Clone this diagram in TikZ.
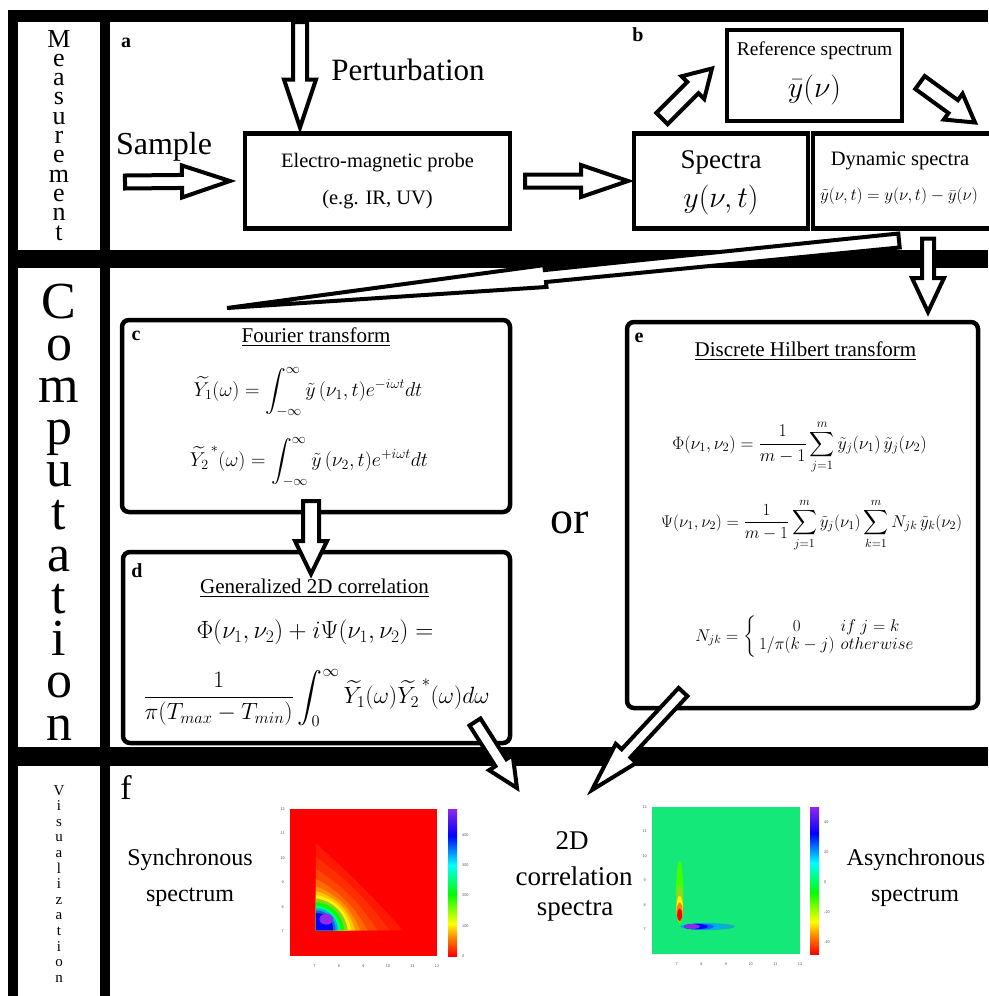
\documentclass[tikz,border=0pt]{standalone}
\usepackage{fix-cm}
\usepackage{amsmath}
\usepackage{fontspec}
\setmainfont{Liberation Serif}
\usetikzlibrary{calc}

\definecolor{cbpurple}{RGB}{145,40,235}
\definecolor{asyncbg}{RGB}{20,232,120}
\pgfdeclareverticalshading{rainbowbar}{100bp}{color(0bp)=(red); color(25bp)=(red); color(31bp)=(orange); color(36bp)=(yellow); color(46bp)=(green); color(56bp)=(cyan); color(66bp)=(blue); color(75bp)=(cbpurple); color(100bp)=(cbpurple)}

% hollow block arrow: from, to, tail half width, neck half width, head half width, head length
\newcommand{\fatarrow}[6]{%
  \coordinate (fa-n) at ($(#2)!#6!(#1)$);
  \draw[fat] ($(#1)!#3!90:(#2)$) -- ($(fa-n)!#4!90:(#2)$) -- ($(fa-n)!#5!90:(#2)$)
    -- (#2) -- ($(fa-n)!#5!-90:(#2)$) -- ($(fa-n)!#4!-90:(#2)$)
    -- ($(#1)!#3!-90:(#2)$) -- cycle;}

\tikzset{
  bar/.style={fill=black},
  box/.style={draw, line width=4.5pt, inner sep=0pt, outer sep=0pt},
  rbox/.style={draw, line width=4.5pt, rounded corners=7pt, inner sep=0pt, outer sep=0pt},
  fat/.style={draw, fill=white, line width=4pt},
  rowlbl/.style={anchor=base, inner sep=0pt},
  panel/.style={font=\fontsize{20}{20}\selectfont\bfseries, inner sep=0pt},
  tick/.style={font=\fontsize{4}{4}\selectfont\sffamily, text=black!70, inner sep=0pt},
}

\begin{document}
\begin{tikzpicture}[x=1pt,y=-1pt,line join=miter]
  \useasboundingbox (0,0) rectangle (988,996);
  % frame
  \fill[bar] (8,10) rectangle (988,22);
  \fill[bar] (8,10) rectangle (18,996);
  \fill[bar] (100,10) rectangle (110,996);
  \fill[bar] (8,250) rectangle (988,268);
  \fill[bar] (8,747) rectangle (988,766);

  % row titles
  \foreach \l [count=\i] in {M,e,a,s,u,r,e,m,e,n,t}
    \node[rowlbl, font=\fontsize{26}{26}\selectfont] (meas\i) at (59,{47+(\i-1)*19.3}) {\l};
  \foreach \l [count=\i] in {C,o,m,p,u,t,a,t,i,o,n}
    \node[rowlbl, font=\fontsize{52}{52}\selectfont] (comp\i) at (59,{318+(\i-1)*42.2}) {\l};
  \foreach \l [count=\i] in {V,i,s,u,a,l,i,z,a,t,i,o,n}
    \node[rowlbl, font=\fontsize{15}{15}\selectfont] (vis\i) at (59,{795+(\i-1)*15.6}) {\l};

  % measurement
  \node[panel] (pa) at (126,43) {a};
  \node[panel] (pb) at (638,35) {b};
  \node[font=\fontsize{31}{31}\selectfont] (pert) at (408,70) {Perturbation};
  \node[font=\fontsize{32}{32}\selectfont] (sample) at (164,147) {Sample};
  \node[box, minimum width=265pt, minimum height=95pt] (probe) at (377.5,181) {};
  \node[font=\fontsize{20.5}{20.5}\selectfont] (probe-l1) at ($(probe)+(0,-18)$) {Electro-magnetic probe};
  \node[font=\fontsize{20.5}{20.5}\selectfont] (probe-l2) at ($(probe)+(0,19)$) {(e.g. IR, UV)};
  \node[box, minimum width=174pt, minimum height=95pt] (spectra) at (721,181) {};
  \node[font=\fontsize{27}{27}\selectfont] (spectra-l1) at ($(spectra)+(0,-19)$) {Spectra};
  \node[font=\fontsize{30}{30}\selectfont] (spectra-l2) at ($(spectra)+(0,19)$) {$y(\nu,t)$};
  \node[box, minimum width=178pt, minimum height=95pt] (dyn) at (902,181) {};
  \node[font=\fontsize{20.5}{20.5}\selectfont] (dyn-l1) at ($(dyn)+(-2,-20)$) {Dynamic spectra};
  \node[font=\fontsize{17}{17}\selectfont] (dyn-l2) at ($(dyn)+(-3,15)$) {$\tilde{y}(\nu,t)=y(\nu,t)-\bar{y}(\nu)$};
  \node[box, minimum width=175pt, minimum height=91pt] (ref) at (814.5,75.5) {};
  \node[font=\fontsize{19.5}{19.5}\selectfont] (ref-l1) at ($(ref)+(0,-25)$) {Reference spectrum};
  \node[font=\fontsize{30}{30}\selectfont] (ref-l2) at ($(ref)+(0,14)$) {$\bar{y}(\nu)$};

  % computation
  \node[rbox, minimum width=388pt, minimum height=192pt] (fourier) at (316,416) {};
  \node[panel] (pc) at ($(fourier.north west)+(14,16)$) {c};
  \node[font=\fontsize{21}{21}\selectfont] (fourier-t) at ($(fourier.north)+(0,17)$) {\underline{Fourier transform}};
  \node[font=\fontsize{20}{20}\selectfont] (fourier-f1) at ($(fourier.north)+(-8,72)$)
    {$\widetilde{Y_1}(\omega)=\displaystyle\int_{-\infty}^{\infty}\tilde{y}\,(\nu_1,t)e^{-i\omega t}dt$};
  \node[font=\fontsize{20}{20}\selectfont] (fourier-f2) at ($(fourier.north)+(-7,142)$)
    {$\widetilde{Y_2}^{\,*}(\omega)=\displaystyle\int_{-\infty}^{\infty}\tilde{y}\,(\nu_2,t)e^{+i\omega t}dt$};

  \node[rbox, minimum width=387pt, minimum height=191pt] (corr) at (316.5,647.5) {};
  \node[panel] (pd) at ($(corr.north west)+(14,19)$) {d};
  \node[font=\fontsize{21}{21}\selectfont] (corr-t) at ($(corr.north)+(-2,36)$) {\underline{Generalized 2D correlation}};
  \node[font=\fontsize{25}{25}\selectfont] (corr-f1) at ($(corr.north)+(-1.5,80)$)
    {$\Phi(\nu_1,\nu_2)+i\Psi(\nu_1,\nu_2)=$};
  \node[font=\fontsize{23.5}{23.5}\selectfont] (corr-f2) at ($(corr.north)+(0,146)$)
    {$\dfrac{1}{\pi(T_{max}-T_{min})}\displaystyle\int_0^{\infty}\widetilde{Y_1}(\omega)\widetilde{Y_2}^{\,*}(\omega)d\omega$};

  \node[font=\fontsize{46}{46}\selectfont] (or) at (570,523) {or};

  \node[rbox, minimum width=351pt, minimum height=386pt] (hilbert) at (802.5,515) {};
  \node[panel] (pe) at ($(hilbert.north west)+(12,16)$) {e};
  \node[font=\fontsize{21}{21}\selectfont] (hilbert-t) at ($(hilbert.north)+(3,29)$) {\underline{Discrete Hilbert transform}};
  \node[font=\fontsize{18}{18}\selectfont] (hilbert-f1) at ($(hilbert.north)+(-3,125)$)
    {$\Phi(\nu_1,\nu_2)=\dfrac{1}{m-1}\displaystyle\sum_{j=1}^{m}\tilde{y}_j(\nu_1)\,\tilde{y}_j(\nu_2)$};
  \node[font=\fontsize{17}{17}\selectfont] (hilbert-f2) at ($(hilbert.north)+(9,203)$)
    {$\Psi(\nu_1,\nu_2)=\dfrac{1}{m-1}\displaystyle\sum_{j=1}^{m}\tilde{y}_j(\nu_1)\sum_{k=1}^{m}N_{jk}\,\tilde{y}_k(\nu_2)$};
  \node[font=\fontsize{17}{17}\selectfont] (hilbert-f3) at ($(hilbert.north)+(4,315)$)
    {\setlength{\arraycolsep}{3pt}$N_{jk}=\left\{\begin{array}{cl}0 & if\ j=k\\ 1/\pi(k-j) & otherwise\end{array}\right.$};

  % visualization
  \node[font=\fontsize{34}{34}\selectfont, inner sep=0pt] (pf) at (126,788) {f};
  \node[font=\fontsize{24}{24}\selectfont] (sync-l1) at (190,860) {Synchronous};
  \node[font=\fontsize{24}{24}\selectfont] (sync-l2) at (190,897) {spectrum};
  \node[font=\fontsize{27}{27}\selectfont] (res-l1) at (572,841) {2D};
  \node[font=\fontsize{27}{27}\selectfont] (res-l2) at (574,876) {correlation};
  \node[font=\fontsize{27}{27}\selectfont] (res-l3) at (575,911) {spectra};
  \node[font=\fontsize{24}{24}\selectfont] (async-l1) at (916,860) {Asynchronous};
  \node[font=\fontsize{24}{24}\selectfont] (async-l2) at (915,897) {spectrum};

  % synchronous map
  \begin{scope}[shift={(143,1103)}, x=24.5pt, y=24.5pt]
    \fill[red] (6,6) rectangle (12,12);
    \foreach \rad/\bnd/\col in {3.55/3/red!90!yellow, 3.0/8/red!82!yellow, 2.5/12/red!72!yellow,
        2.1/16/red!58!yellow, 1.8/22/red!42!yellow, 1.6/28/red!22!yellow, 1.45/32/yellow,
        1.3/36/yellow!55!green, 1.15/40/green, 1.0/42/green!50!cyan, 0.9/44/cyan,
        0.8/46/cyan!40!blue, 0.7/48/blue}
      \fill[\col] (7.06,7.05) -- (7.06,7.05+\rad) to[bend left=\bnd] (7.06+\rad,7.05) -- cycle;
    \fill[cbpurple] (7.48,7.5) ellipse (0.28 and 0.22);
    \foreach \t in {7,...,12} {
      \node[tick] (sx\t) at (\t,5.6) {\t};
      \node[tick] (sy\t) at (5.7,\t) {\t};
    }
  \end{scope}
  \shade[shading=rainbowbar] (448,809) rectangle (457,956);
  \foreach \v [count=\i] in {0,100,200,300,400}
    \node[tick, anchor=west] (sc\i) at (462,{956-\v*0.3025}) {\v};

  % asynchronous map
  \begin{scope}[shift={(504,1101)}, x=24.67pt, y=24.5pt]
    \fill[asyncbg] (6,6) rectangle (12,12);
    \fill[green!75!yellow] (7.12,8.5) ellipse (0.15 and 1.3);
    \fill[yellow!60!green] (7.12,8.05) ellipse (0.14 and 0.75);
    \fill[yellow] (7.12,7.85) ellipse (0.13 and 0.52);
    \fill[orange] (7.12,7.72) ellipse (0.12 and 0.38);
    \fill[red] (7.12,7.6) ellipse (0.1 and 0.26);
    \fill[cyan!55!asyncbg] (8.25,7.12) ellipse (1.1 and 0.14);
    \fill[cyan] (8.05,7.12) ellipse (0.85 and 0.13);
    \fill[blue!60!cyan] (7.9,7.12) ellipse (0.62 and 0.12);
    \fill[blue] (7.78,7.12) ellipse (0.48 and 0.11);
    \fill[cbpurple] (7.62,7.12) ellipse (0.32 and 0.1);
    \foreach \t in {7,...,12} {
      \node[tick] (ax\t) at (\t,5.6) {\t};
      \node[tick] (ay\t) at (5.7,\t) {\t};
    }
  \end{scope}
  \shade[shading=rainbowbar] (810,807) rectangle (819,954);
  \foreach \v [count=\i] in {-40,-20,0,20,40}
    \node[tick, anchor=west] (ac\i) at (824,{882-\v*1.5}) {\v};

  % block arrows
  \coordinate (pert-s) at (300,22);
  \coordinate (pert-e) at ($(probe.north -| pert-s)+(0,-6)$);
  \fatarrow{pert-s}{pert-e}{7pt}{7pt}{16pt}{48pt}
  \coordinate (samp-s) at (125,182);
  \coordinate (samp-e) at ($(probe.west)+(-15,0)$);
  \fatarrow{samp-s}{samp-e}{6.5pt}{6.5pt}{16pt}{48pt}
  \coordinate (ps-s) at ($(probe.east)+(15,0)$);
  \coordinate (ps-e) at ($(spectra.west)+(-6,0)$);
  \fatarrow{ps-s}{ps-e}{6.5pt}{6.5pt}{16pt}{47pt}
  \coordinate (sr-s) at ($(spectra.north west)+(28,-15)$);
  \coordinate (sr-e) at ($(ref.west)+(-15,-7)$);
  \fatarrow{sr-s}{sr-e}{8pt}{8pt}{16pt}{27pt}
  \coordinate (rd-s) at ($(ref.east)+(18,7)$);
  \coordinate (rd-e) at ($(dyn.north east)+(-16,-11)$);
  \fatarrow{rd-s}{rd-e}{8pt}{8pt}{16pt}{27pt}
  \coordinate (de-s) at ($(dyn.south)+(26,10)$);
  \coordinate (de-e) at ($(hilbert.north -| de-s)+(0,-10)$);
  \fatarrow{de-s}{de-e}{6pt}{6pt}{16pt}{34pt}
  \coordinate (big-s) at ($(dyn.south)+(-3,12)$);
  \coordinate (big-e) at ($(fourier.north west)+(105,-12)$);
  \fatarrow{big-s}{big-e}{7pt}{6pt}{11pt}{320pt}
  \coordinate (cd-s) at ($(fourier.south)+(-5,-11)$);
  \coordinate (cd-e) at ($(corr.north)+(-5.5,22)$);
  \fatarrow{cd-s}{cd-e}{8pt}{8pt}{16pt}{33pt}
  \coordinate (df-s) at ($(corr.south east)+(-35,-21)$);
  \coordinate (df-e) at ($(corr.south east)+(7,45)$);
  \fatarrow{df-s}{df-e}{6.5pt}{6.5pt}{14pt}{30pt}
  \coordinate (ef-s) at ($(hilbert.south west)+(56,-16)$);
  \coordinate (ef-e) at ($(hilbert.south west)+(-35,82)$);
  \fatarrow{ef-s}{ef-e}{6pt}{6pt}{14pt}{50pt}
\end{tikzpicture}
\end{document}
